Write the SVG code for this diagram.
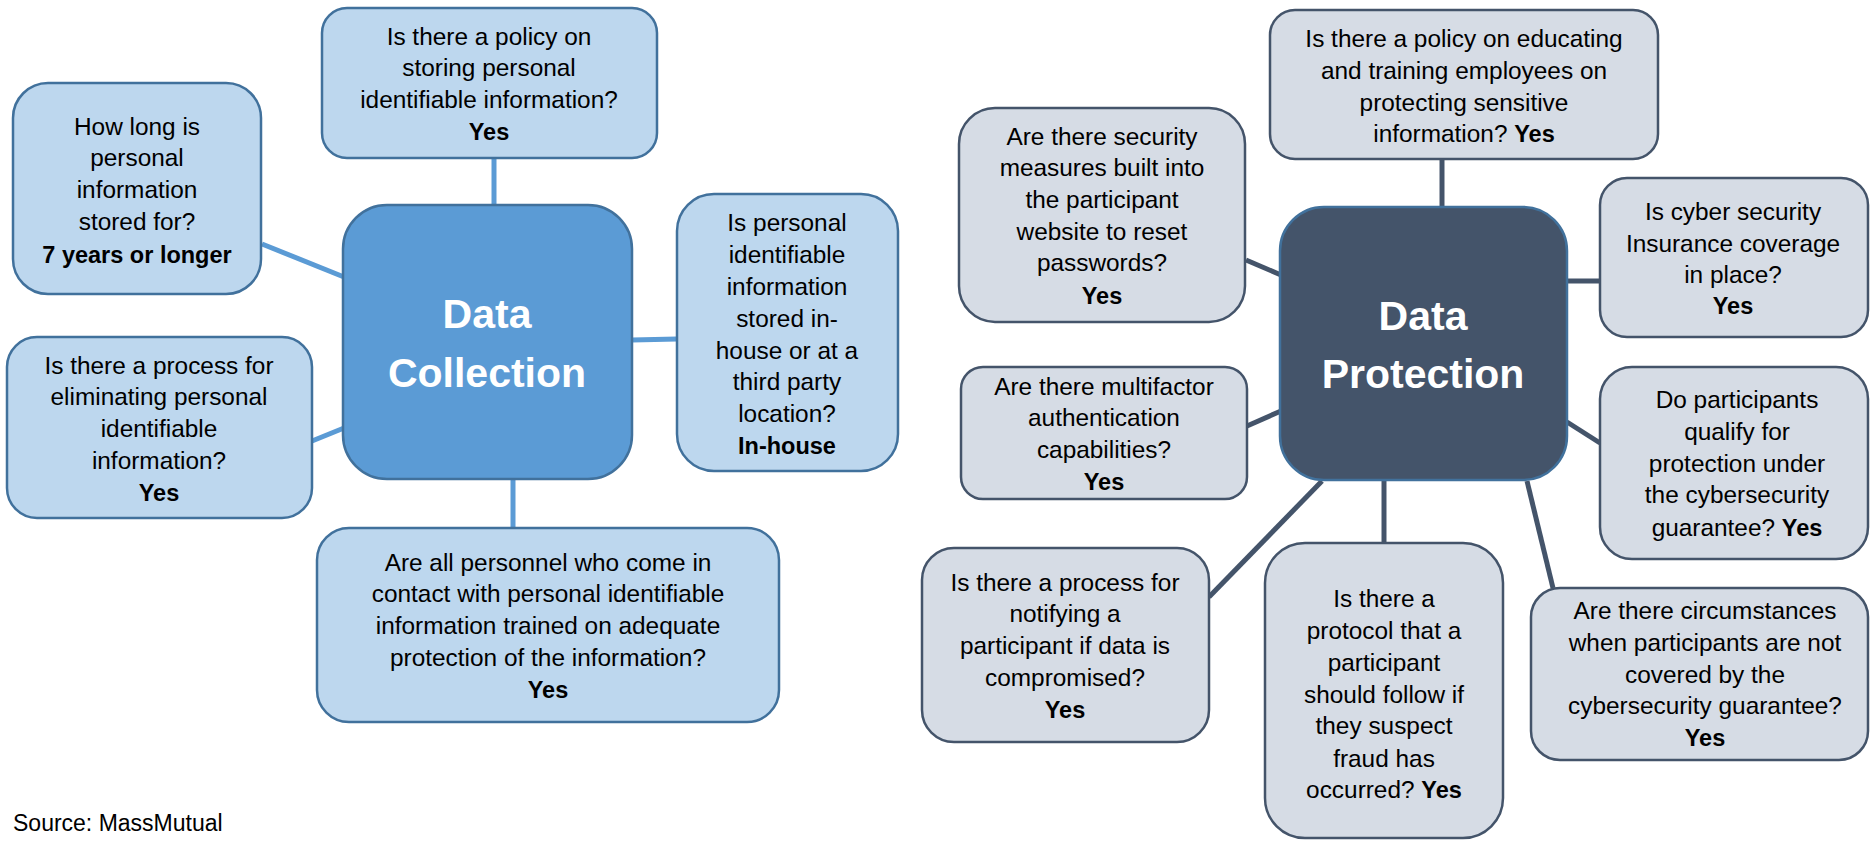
<svg xmlns="http://www.w3.org/2000/svg" width="1870" height="841" viewBox="0 0 1870 841">
<style>
text{font-family:"Liberation Sans",Arial,sans-serif;font-size:24.4px;fill:#000;text-anchor:middle}
.b{font-weight:bold;font-size:23.5px}
.lb{fill:#BDD7EE;stroke:#41719C;stroke-width:2.5}
.gb{fill:#D6DCE5;stroke:#44546A;stroke-width:2.5}
.hub1{fill:#5B9BD5;stroke:#41719C;stroke-width:2.5}
.hub2{fill:#44546A;stroke:#41719C;stroke-width:2.5}
.ht{fill:#fff;font-weight:bold;font-size:41px}
.c1{stroke:#5B9BD5;stroke-width:5;fill:none}
.c2{stroke:#44546A;stroke-width:5;fill:none}
.src{text-anchor:start;font-size:23px}
</style>
<rect width="1870" height="841" fill="#fff"/>
<g id="connectors">
<line class="c1" x1="494" y1="158" x2="494" y2="205"/>
<line class="c1" x1="262" y1="244" x2="344" y2="277"/>
<line class="c1" x1="312" y1="441" x2="344" y2="428"/>
<line class="c1" x1="632" y1="340" x2="677" y2="339"/>
<line class="c1" x1="513" y1="479" x2="513" y2="528"/>
<line class="c2" x1="1442" y1="159" x2="1442" y2="207"/>
<line class="c2" x1="1246" y1="260" x2="1281" y2="275"/>
<line class="c2" x1="1567" y1="281" x2="1602" y2="281"/>
<line class="c2" x1="1247" y1="426" x2="1281" y2="411"/>
<line class="c2" x1="1567" y1="422" x2="1600" y2="443"/>
<line class="c2" x1="1322" y1="481" x2="1209" y2="597"/>
<line class="c2" x1="1384" y1="481" x2="1384" y2="543"/>
<line class="c2" x1="1527" y1="481" x2="1553" y2="588"/>
</g>
<g id="data-collection">
<rect class="hub1" x="343" y="205" width="289" height="274" rx="44"/>
<text class="ht" x="487" y="328">Data</text>
<text class="ht" x="487" y="387">Collection</text>
</g>
<g id="dc-policy">
<rect class="lb" x="322" y="8" width="335" height="150" rx="25"/>
<text x="489" y="45">Is there a policy on</text>
<text x="489" y="76">storing personal</text>
<text x="489" y="108">identifiable information?</text>
<text class="b" x="489" y="140">Yes</text>
</g>
<g id="dc-howlong">
<rect class="lb" x="13" y="83" width="248" height="211" rx="35"/>
<text x="137" y="135">How long is</text>
<text x="137" y="166">personal</text>
<text x="137" y="198">information</text>
<text x="137" y="230">stored for?</text>
<text class="b" x="137" y="263">7 years or longer</text>
</g>
<g id="dc-eliminate">
<rect class="lb" x="7" y="337" width="305" height="181" rx="30"/>
<text x="159" y="374">Is there a process for</text>
<text x="159" y="405">eliminating personal</text>
<text x="159" y="437">identifiable</text>
<text x="159" y="469">information?</text>
<text class="b" x="159" y="501">Yes</text>
</g>
<g id="dc-inhouse">
<rect class="lb" x="677" y="194" width="221" height="277" rx="37"/>
<text x="787" y="231">Is personal</text>
<text x="787" y="263">identifiable</text>
<text x="787" y="295">information</text>
<text x="787" y="327">stored in-</text>
<text x="787" y="359">house or at a</text>
<text x="787" y="390">third party</text>
<text x="787" y="422">location?</text>
<text class="b" x="787" y="454">In-house</text>
</g>
<g id="dc-personnel">
<rect class="lb" x="317" y="528" width="462" height="194" rx="32"/>
<text x="548" y="571">Are all personnel who come in</text>
<text x="548" y="602">contact with personal identifiable</text>
<text x="548" y="634">information trained on adequate</text>
<text x="548" y="666">protection of the information?</text>
<text class="b" x="548" y="698">Yes</text>
</g>
<g id="data-protection">
<rect class="hub2" x="1280" y="207" width="287" height="273" rx="44"/>
<text class="ht" x="1423" y="330">Data</text>
<text class="ht" x="1423" y="388">Protection</text>
</g>
<g id="dp-training">
<rect class="gb" x="1270" y="10" width="388" height="149" rx="25"/>
<text x="1464" y="47">Is there a policy on educating</text>
<text x="1464" y="79">and training employees on</text>
<text x="1464" y="111">protecting sensitive</text>
<text x="1464" y="142">information? <tspan class="b">Yes</tspan></text>
</g>
<g id="dp-security">
<rect class="gb" x="959" y="108" width="286" height="214" rx="36"/>
<text x="1102" y="145">Are there security</text>
<text x="1102" y="176">measures built into</text>
<text x="1102" y="208">the participant</text>
<text x="1102" y="240">website to reset</text>
<text x="1102" y="271">passwords?</text>
<text class="b" x="1102" y="304">Yes</text>
</g>
<g id="dp-insurance">
<rect class="gb" x="1600" y="178" width="268" height="159" rx="27"/>
<text x="1733" y="220">Is cyber security</text>
<text x="1733" y="252">Insurance coverage</text>
<text x="1733" y="283">in place?</text>
<text class="b" x="1733" y="314">Yes</text>
</g>
<g id="dp-multifactor">
<rect class="gb" x="961" y="367" width="286" height="132" rx="22"/>
<text x="1104" y="395">Are there multifactor</text>
<text x="1104" y="426">authentication</text>
<text x="1104" y="458">capabilities?</text>
<text class="b" x="1104" y="490">Yes</text>
</g>
<g id="dp-qualify">
<rect class="gb" x="1600" y="367" width="268" height="192" rx="32"/>
<text x="1737" y="408">Do participants</text>
<text x="1737" y="440">qualify for</text>
<text x="1737" y="472">protection under</text>
<text x="1737" y="503">the cybersecurity</text>
<text x="1737" y="536">guarantee? <tspan class="b">Yes</tspan></text>
</g>
<g id="dp-notify">
<rect class="gb" x="922" y="548" width="287" height="194" rx="32"/>
<text x="1065" y="591">Is there a process for</text>
<text x="1065" y="622">notifying a</text>
<text x="1065" y="654">participant if data is</text>
<text x="1065" y="686">compromised?</text>
<text class="b" x="1065" y="718">Yes</text>
</g>
<g id="dp-fraud">
<rect class="gb" x="1265" y="543" width="238" height="295" rx="40"/>
<text x="1384" y="607">Is there a</text>
<text x="1384" y="639">protocol that a</text>
<text x="1384" y="671">participant</text>
<text x="1384" y="703">should follow if</text>
<text x="1384" y="734">they suspect</text>
<text x="1384" y="767">fraud has</text>
<text x="1384" y="798">occurred? <tspan class="b">Yes</tspan></text>
</g>
<g id="dp-circumstances">
<rect class="gb" x="1531" y="588" width="337" height="172" rx="29"/>
<text x="1705" y="619">Are there circumstances</text>
<text x="1705" y="651">when participants are not</text>
<text x="1705" y="683">covered by the</text>
<text x="1705" y="714">cybersecurity guarantee?</text>
<text class="b" x="1705" y="746">Yes</text>
</g>
<text class="src" x="13" y="831">Source: MassMutual</text>
</svg>
